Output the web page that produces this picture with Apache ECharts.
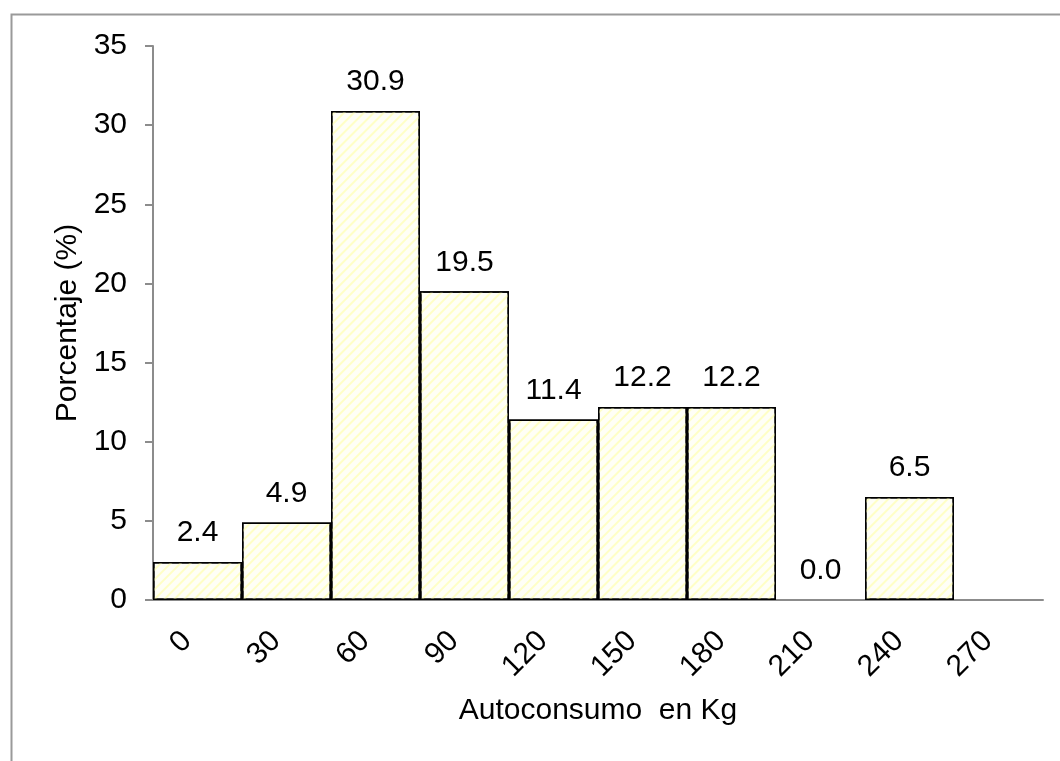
<!DOCTYPE html>
<html>
<head>
<meta charset="utf-8">
<script src="https://cdn.jsdelivr.net/npm/echarts@6/dist/echarts.min.js"></script>
<style>
html,body{margin:0;padding:0;background:#fff;}
#chart{width:1060px;height:761px;}
</style>
</head>
<body>
<div id="chart"></div>
<script>
const categories = ['0','30','60','90','120','150','180','210','240','270'];
const percentages = [2.4, 4.9, 30.9, 19.5, 11.4, 12.2, 12.2, 0.0, 6.5, null];
const yTicks = {min: 0, max: 35, interval: 5};
const xTitle = 'Autoconsumo  en Kg';
const yTitle = 'Porcentaje (%)';

const FONT = "'Liberation Sans', Arial, sans-serif";
const seriesData = percentages.map(v => (v === 0 ? {value: v, itemStyle: {borderWidth: 0}} : v));
const chart = echarts.init(document.getElementById('chart'), null, {renderer: 'canvas'});
chart.setOption({
  animation: false,
  backgroundColor: '#ffffff',
  graphic: [{
    type: 'rect',
    left: 9, top: 12,
    shape: {width: 1200, height: 900},
    style: {fill: 'none', stroke: '#9a9a9a', lineWidth: 2},
    silent: true
  }],
  grid: {left: 153, right: 17, top: 46, bottom: 161},
  xAxis: {
    type: 'category',
    data: categories,
    name: xTitle,
    nameLocation: 'middle',
    nameGap: 96,
    nameTextStyle: {fontFamily: FONT, fontSize: 30, color: '#000'},
    axisLine: {show: true, lineStyle: {color: '#8c8c8c', width: 2}},
    axisTick: {show: false},
    axisLabel: {rotate: 45, fontFamily: FONT, fontSize: 30, color: '#000', margin: 47, verticalAlign: 'bottom', interval: 0, padding: [0, 0, 0, 0]},
    splitLine: {show: false}
  },
  yAxis: {
    type: 'value',
    min: yTicks.min, max: yTicks.max, interval: yTicks.interval,
    name: yTitle,
    nameLocation: 'middle',
    nameGap: 68,
    nameRotate: 90,
    nameTextStyle: {fontFamily: FONT, fontSize: 30, color: '#000'},
    axisLine: {show: true, lineStyle: {color: '#8c8c8c', width: 2}},
    axisTick: {show: true, length: 8, lineStyle: {color: '#8c8c8c', width: 2}},
    axisLabel: {fontFamily: FONT, fontSize: 30, color: '#000', margin: 26},
    splitLine: {show: false}
  },
  series: [{
    type: 'bar',
    data: seriesData,
    barCategoryGap: 0,
    itemStyle: {
      color: '#fffff6',
      borderColor: '#000',
      borderWidth: 1.5,
      decal: {
        symbol: 'rect',
        symbolSize: 1,
        color: '#ffffc6',
        dashArrayX: [1, 0],
        dashArrayY: [1.5, 4.5],
        rotation: -Math.PI / 4
      }
    },
    label: {
      show: true,
      position: 'top',
      distance: 14,
      fontFamily: FONT,
      fontSize: 30,
      color: '#000',
      formatter: p => (p.value == null ? '' : Number(p.value).toFixed(1))
    }
  }]
});
</script>
</body>
</html>
